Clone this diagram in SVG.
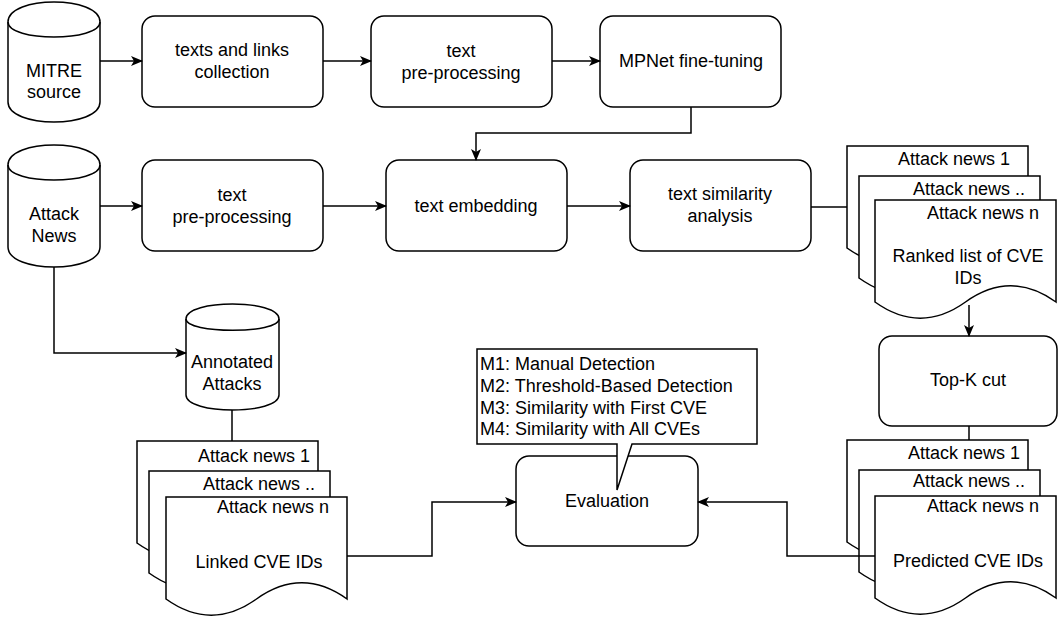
<svg xmlns="http://www.w3.org/2000/svg" width="1058" height="621" viewBox="0 0 1058 621">
<style>
.s{fill:#fff;stroke:#000;stroke-width:1.5}
.c{fill:none;stroke:#000;stroke-width:1.5}
text{font-family:"Liberation Sans",Arial,sans-serif;font-size:18px;fill:#000}
.m{text-anchor:middle}
.e{text-anchor:end}
</style>
<defs>
<marker id="ah" markerWidth="12" markerHeight="10" refX="11" refY="5" orient="auto" markerUnits="userSpaceOnUse">
<path d="M0,0 L12,5 L0,10 L3,5 Z" fill="#000"/>
</marker>
</defs>
<rect width="1058" height="621" fill="#fff"/>

<g id="mitre">
<path class="s" d="M8,22 C8,-4.7 100,-4.7 100,22 L100,102 C100,128.7 8,128.7 8,102 Z"/>
<path class="c" d="M8,22 C8,42 100,42 100,22"/>
<text class="m" x="54" y="77">MITRE</text>
<text class="m" x="54" y="98">source</text>
</g>

<g id="texts-links">
<rect class="s" x="142" y="16" width="181" height="91" rx="13"/>
<text class="m" x="232" y="56">texts and links</text>
<text class="m" x="232" y="78">collection</text>
</g>

<g id="preproc1">
<rect class="s" x="371" y="16" width="181" height="91" rx="13"/>
<text class="m" x="461" y="57">text</text>
<text class="m" x="461" y="79">pre-processing</text>
</g>

<g id="mpnet">
<rect class="s" x="600" y="16" width="181" height="91" rx="13"/>
<text class="m" x="691" y="67">MPNet fine-tuning</text>
</g>

<g id="attack-news">
<path class="s" d="M8,165 C8,138.3 100,138.3 100,165 L100,247 C100,273.7 8,273.7 8,247 Z"/>
<path class="c" d="M8,165 C8,185 100,185 100,165"/>
<text class="m" x="54" y="220">Attack</text>
<text class="m" x="54" y="242">News</text>
</g>

<g id="preproc2">
<rect class="s" x="142" y="160" width="181" height="91" rx="13"/>
<text class="m" x="232" y="201">text</text>
<text class="m" x="232" y="223">pre-processing</text>
</g>

<g id="embedding">
<rect class="s" x="386" y="160" width="181" height="91" rx="13"/>
<text class="m" x="476" y="212">text embedding</text>
</g>

<g id="similarity">
<rect class="s" x="630" y="160" width="181" height="91" rx="13"/>
<text class="m" x="720" y="200">text similarity</text>
<text class="m" x="720" y="222">analysis</text>
</g>

<g id="annotated">
<path class="s" d="M186,319 C186,299 279,299 279,319 L279,395 C279,415 186,415 186,395 Z"/>
<path class="c" d="M186,319 C186,334 279,334 279,319"/>
<text class="m" x="232" y="368">Annotated</text>
<text class="m" x="232" y="390">Attacks</text>
</g>

<g id="ranked-docs">
<path class="s" d="M847,146 H1028 V248 Q983.75,215.6 937.5,248 Q892.25,280.4 847,248 Z"/>
<path class="s" d="M859,176 H1040 V278 Q994.75,245.6 949.5,278 Q904.25,310.4 859,278 Z"/>
<path class="s" d="M875,200 H1056 V302 Q1010.75,269.6 965.5,302 Q920.25,334.4 875,302 Z"/>
<text class="e" x="1010" y="165">Attack news 1</text>
<text class="e" x="1025" y="195">Attack news ..</text>
<text class="e" x="1039" y="219">Attack news n</text>
<text class="m" x="968" y="262">Ranked list of CVE</text>
<text class="m" x="968" y="284">IDs</text>
</g>

<g id="topk">
<rect class="s" x="879" y="336" width="178" height="90" rx="13"/>
<text class="m" x="968" y="386">Top-K cut</text>
</g>

<g id="linked-docs">
<path class="s" d="M137,441 H318 V543 Q272.75,510.6 227.5,543 Q182.25,575.4 137,543 Z"/>
<path class="s" d="M149,471 H330 V573 Q284.75,540.6 239.5,573 Q194.25,605.4 149,573 Z"/>
<path class="s" d="M166,497 H347 V599 Q301.75,566.6 256.5,599 Q211.25,631.4 166,599 Z"/>
<text class="e" x="310" y="462">Attack news 1</text>
<text class="e" x="315" y="490">Attack news ..</text>
<text class="e" x="329" y="513">Attack news n</text>
<text class="m" x="259" y="568">Linked CVE IDs</text>
</g>

<g id="predicted-docs">
<path class="s" d="M847,440 H1028 V542 Q982.75,509.6 937.5,542 Q892.25,574.4 847,542 Z"/>
<path class="s" d="M859,470 H1040 V572 Q994.75,539.6 949.5,572 Q904.25,604.4 859,572 Z"/>
<path class="s" d="M875,496 H1056 V598 Q1010.75,565.6 965.5,598 Q920.25,630.4 875,598 Z"/>
<text class="e" x="1020" y="459">Attack news 1</text>
<text class="e" x="1025" y="487">Attack news ..</text>
<text class="e" x="1039" y="512">Attack news n</text>
<text class="m" x="968" y="567">Predicted CVE IDs</text>
</g>

<g id="evaluation">
<rect class="s" x="516" y="456" width="182" height="90" rx="13"/>
<text class="m" x="607" y="507">Evaluation</text>
</g>

<g id="methods-callout">
<path class="s" d="M477,349 H757 V444 H632 L617,490 V444 H477 Z"/>
<text x="480" y="370">M1: Manual Detection</text>
<text x="480" y="392">M2: Threshold-Based Detection</text>
<text x="480" y="414">M3: Similarity with First CVE</text>
<text x="480" y="435">M4: Similarity with All CVEs</text>
</g>

<g id="connectors">
<path class="c" d="M100,61 H142" marker-end="url(#ah)"/>
<path class="c" d="M323,61 H371" marker-end="url(#ah)"/>
<path class="c" d="M552,61 H600" marker-end="url(#ah)"/>
<path class="c" d="M691,107 V133 H476 V160" marker-end="url(#ah)"/>
<path class="c" d="M100,206 H142" marker-end="url(#ah)"/>
<path class="c" d="M323,206 H386" marker-end="url(#ah)"/>
<path class="c" d="M567,206 H630" marker-end="url(#ah)"/>
<path class="c" d="M811,207 H847"/>
<path class="c" d="M54,267 V353 H186" marker-end="url(#ah)"/>
<path class="c" d="M232,410 V441"/>
<path class="c" d="M347,556 H432 V502 H516" marker-end="url(#ah)"/>
<path class="c" d="M875,556 H787 V502 H698" marker-end="url(#ah)"/>
<path class="c" d="M969,305 V336" marker-end="url(#ah)"/>
<path class="c" d="M969,426 V440"/>
</g>
</svg>
